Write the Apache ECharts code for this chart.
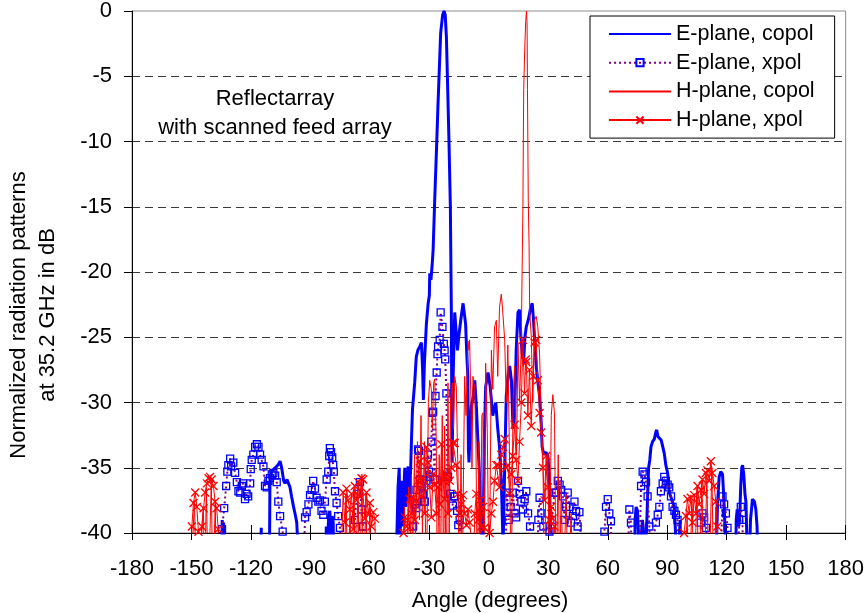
<!DOCTYPE html>
<html><head><meta charset="utf-8">
<script src="https://cdn.jsdelivr.net/npm/echarts@6/dist/echarts.min.js"></script>
<style>html,body{margin:0;padding:0;background:#fff}#c{width:867px;height:613px}</style>
</head><body><div id="c"></div>
<script>
const FONT = 'Liberation Sans, Arial, sans-serif';
const seriesNames = ['E-plane, copol', 'E-plane, xpol', 'H-plane, copol', 'H-plane, xpol'];
const xMin = -180, xMax = 180, xStep = 30;
const yMin = -40, yMax = 0, yStep = 5;

// [angle (deg), level (dB)]; values below -40 are clipped by the axis
const eCopol = [[-138,-50],[-135,-50],[-134.5,-39],[-134,-45],[-133.8,-39.2],[-133.3,-45],[-116,-50],[-114.8,-39.6],[-114.4,-50],[-111,-50],[-110.6,-40.5],[-110.4,-35.7],[-109.5,-35.3],[-108.5,-35.1],[-107,-34.9],[-106,-34.7],[-105.3,-34.5],[-104.5,-35],[-103.5,-36],[-102.8,-36.2],[-101.8,-35.9],[-101.2,-35.8],[-100.3,-36.5],[-99.5,-37.2],[-98.5,-38],[-97.5,-38.7],[-96.9,-39.2],[-96.3,-41],[-95,-50],[-82.5,-50],[-82,-39.5],[-81.5,-42],[-80.8,-38.6],[-80.2,-38.3],[-79.5,-41],[-79,-38.7],[-78.5,-39.2],[-78,-45],[-48,-50],[-46.5,-41],[-45.8,-36.5],[-45.2,-35],[-44.8,-40.5],[-44,-36],[-43.5,-39.5],[-42.4,-35],[-41.8,-38],[-40.7,-34.9],[-40,-37.5],[-39.4,-34.9],[-39,-32.8],[-38.5,-30.5],[-37.4,-28.5],[-36.6,-26.5],[-35.8,-26],[-34.8,-25.7],[-34,-25.4],[-33.4,-27.5],[-33,-29.8],[-32.5,-27],[-31.5,-24],[-30.6,-22.4],[-30,-21.8],[-29.8,-20.1],[-29.2,-20.6],[-28.6,-19.5],[-28.1,-18.3],[-27.3,-14.5],[-26.4,-10.6],[-25.6,-7],[-25.1,-5],[-24.3,-1.7],[-23.3,-0.3],[-22.6,0],[-22,-0.3],[-21.4,-2],[-20.9,-5],[-20.1,-10],[-19.4,-15],[-19.1,-20],[-18.9,-23.1],[-18.7,-30],[-18.5,-34.6],[-18,-28],[-17.2,-23.1],[-16.5,-24.5],[-15.8,-26],[-15.2,-25],[-14,-23.5],[-13,-22.4],[-12.2,-22.3],[-11.7,-24],[-11.2,-26],[-10.6,-28],[-10.3,-33.6],[-10,-34.6],[-9.4,-32],[-8.8,-30.3],[-7.8,-29.5],[-7.1,-28.3],[-6.3,-30.3],[-5.5,-33],[-4.6,-35.9],[-3.8,-40],[-3.2,-45],[-2.3,-33],[-1.6,-28.8],[-0.4,-27.7],[0.7,-28.8],[2,-31],[3.5,-30],[4.5,-32],[5.4,-33.4],[6.3,-36],[7.2,-41],[8,-35],[8.8,-29.5],[9.7,-28],[10.5,-27.2],[11.4,-28.3],[12.2,-32],[13,-31],[13.8,-26],[14.7,-23.1],[15.5,-22.9],[16.1,-24.8],[16.8,-26.2],[17.5,-27],[18.2,-25],[18.9,-24.2],[20,-23.6],[21,-22.8],[21.9,-22.4],[22.6,-23.8],[23.2,-25.5],[23.9,-27.2],[24.8,-28.5],[25.6,-29.5],[26.4,-31.5],[26.9,-33.4],[27.8,-34],[28.8,-33.8],[29.8,-34.1],[30.6,-36],[31.2,-40],[31.8,-50],[73,-50],[73.8,-39],[74.3,-38],[75,-38.3],[75.6,-40.5],[76.5,-41],[77.5,-39],[78.5,-40.5],[79.5,-40],[80,-37.7],[80.6,-35],[81.2,-34.4],[81.8,-33.4],[82.6,-33],[83.5,-32.8],[84.2,-32.3],[84.7,-32.1],[85.3,-32.6],[86,-32.5],[87,-32.9],[87.7,-32.8],[88.5,-33.9],[89.3,-34.8],[90.2,-35.4],[91,-36.9],[92,-37.3],[93.5,-38],[94.2,-40],[94.8,-45],[95.8,-45],[96.5,-39],[97.2,-45],[114,-50],[114.8,-41],[115.4,-37.7],[116.2,-35.7],[117,-35.3],[117.9,-35.5],[118.7,-37.8],[119.3,-40.5],[120,-50],[124,-50],[124.8,-39],[125.3,-38.2],[126,-39.5],[126.5,-39],[127.1,-36.3],[127.6,-35],[128,-34.8],[128.6,-35.5],[129.2,-37],[129.7,-37.6],[130.2,-40.5],[131,-45],[132,-39],[133,-37.4],[134,-37.6],[134.7,-38.2],[135.3,-39.5],[135.8,-42],[137,-50]];

const eXpol = [[-136,-45],[-134.6,-39.7],[-133.5,-38.1],[-132.5,-36.4],[-131.9,-35.3],[-131.4,-34.8],[-130.5,-34.3],[-130,-34.9],[-128.9,-34.6],[-128,-35.4],[-127.1,-36.1],[-126.3,-36.8],[-125.4,-36.9],[-124.6,-36.4],[-124,-36.2],[-123,-37.4],[-122.2,-37],[-121.4,-37.2],[-120.4,-36.2],[-120.1,-35.1],[-119.6,-34.4],[-118.8,-34],[-117.9,-33.4],[-117,-33.2],[-116.2,-33.4],[-115.4,-34],[-114.6,-34.4],[-113.7,-34.9],[-112.9,-36.4],[-112,-36.5],[-111.2,-36],[-110.4,-35.8],[-109.5,-35.5],[-108.7,-35.4],[-107.8,-35.6],[-107,-36.1],[-106.2,-37.6],[-105.3,-38.7],[-104,-39.9],[-103,-45],[-94,-45],[-92.7,-38.8],[-91.9,-38.4],[-91,-37.8],[-90.2,-37.1],[-89.4,-36.7],[-88.6,-36],[-87.7,-36.6],[-86.9,-37.3],[-86,-37.6],[-85.2,-37.5],[-84.4,-38.3],[-83.5,-38.6],[-82.7,-37.6],[-81.8,-35.9],[-81,-35.3],[-80.5,-34.1],[-80.2,-33.5],[-79.6,-33.8],[-79,-34.2],[-78.5,-34.8],[-78.2,-35.3],[-77.6,-36.8],[-76.8,-37.7],[-76,-38.7],[-75.1,-39.6],[-74,-45],[-69,-45],[-67.6,-39],[-66.5,-37],[-65,-36.1],[-64.2,-38.2],[-63.5,-39.5],[-62.5,-45],[-39,-42],[-38.2,-39.5],[-37.4,-37.8],[-36.6,-38.1],[-36.5,-36.7],[-35.7,-33.6],[-35.3,-33.7],[-34.8,-35.9],[-34,-36.4],[-33.2,-37],[-32.7,-37.6],[-32.3,-37.6],[-31.5,-36],[-30.7,-34],[-30.2,-35.3],[-29.8,-35.7],[-29,-33],[-28.5,-30.8],[-28.1,-30.7],[-27.3,-35.9],[-26.9,-29.5],[-26.3,-27.7],[-25.9,-26.3],[-25.6,-25.7],[-24.8,-25.2],[-24.3,-23.1],[-23.4,-24.2],[-22.7,-25.5],[-22.3,-26],[-22,-26.7],[-21.4,-29.3],[-20.9,-35.6],[-20.6,-35.7],[-19.5,-37],[-18.1,-37.9],[-17.6,-37.2],[-17.2,-37.2],[-16,-38.3],[-15.4,-39.4],[-14.7,-39],[-13.8,-45],[8,-45],[9.1,-36.9],[10,-39],[11,-38],[12.1,-36.9],[13,-38.5],[13.8,-38.8],[14.7,-36],[15.6,-37],[16.4,-37.6],[17.2,-38.2],[18.1,-37.4],[18.9,-36.8],[19.8,-38.5],[20.8,-39.5],[22,-45],[24,-45],[25,-39],[25.6,-37.3],[26.5,-38.5],[27.5,-39.5],[28.5,-45],[29.8,-41],[30.6,-39.9],[31.8,-39],[33.1,-36.9],[34,-36.9],[34.8,-36],[35.7,-36.3],[36.5,-36.7],[37.3,-37.2],[38.2,-39],[39,-38],[39.8,-36.9],[40.7,-38],[41.5,-39.2],[42.4,-38.7],[43.2,-37.6],[44,-38.3],[44.8,-39.5],[45.7,-38.4],[46.5,-40.5],[47.5,-45],[57,-45],[58.3,-39.9],[59.1,-38],[60,-37.4],[60.8,-38.5],[61.6,-39.1],[62.5,-45],[69.5,-45],[70.9,-38.2],[71.7,-39.2],[72.5,-45],[75.5,-45],[76.8,-36.4],[77.6,-35.3],[78.5,-35.5],[79.3,-36.1],[80.1,-37.2],[81,-39.5],[82,-45],[83,-40.5],[84.3,-39.2],[85.2,-38.6],[86,-38],[86.8,-36.8],[87.7,-36.2],[88.5,-35.7],[89.3,-36],[90.2,-36.3],[91,-36.5],[91.9,-37.2],[92.7,-38],[93.6,-38.3],[94.4,-38.6],[95.2,-39],[96,-42],[97,-45],[105.5,-45],[107,-39.2],[107.8,-38.5],[108.6,-38.8],[109.5,-39.6],[110.5,-45],[116.5,-45],[117.9,-37.2],[118.7,-37.8],[119.6,-38.5],[120.4,-39.6],[121.5,-45],[125.5,-45],[126.3,-39],[127.1,-38],[127.9,-39],[128.8,-45]];

const hCopol = [[-152,-50],[-148.5,-37.5],[-147.5,-45],[-144,-38],[-143.3,-45],[-142.5,-36.5],[-141.5,-45],[-140,-36],[-139.2,-45],[-138,-37.5],[-137,-50],[-74,-50],[-72,-37],[-71.2,-45],[-70,-38],[-69.2,-45],[-68,-36.5],[-67.2,-45],[-66,-36],[-65.2,-45],[-64,-35.5],[-63.2,-45],[-62,-37],[-61.2,-45],[-60,-38],[-59,-50],[-46,-50],[-44,-45],[-42.5,-38],[-42,-45],[-40.5,-36.5],[-40,-45],[-39,-35.5],[-38.5,-42],[-37.5,-34],[-37,-41],[-36,-33],[-35,-39],[-34.2,-31],[-33.5,-40],[-32.5,-33],[-31.5,-45],[-30.5,-30],[-29.8,-28.3],[-29,-29],[-28.5,-32],[-27.8,-28.5],[-27.3,-28.2],[-26.5,-33],[-26,-45],[-25,-34],[-24.5,-45],[-23.5,-31],[-22.8,-45],[-22.3,-31.8],[-21.5,-45],[-20.6,-28.5],[-20,-40],[-19.3,-30],[-18.4,-28.5],[-17.8,-32],[-17.2,-28],[-16.4,-28.8],[-15.5,-36],[-15,-45],[-14,-34],[-13.5,-45],[-12.2,-28],[-11.5,-31],[-10.5,-25.3],[-10,-26],[-9.7,-25.2],[-9,-30],[-8.5,-35],[-8,-28],[-7.1,-29],[-6.5,-33],[-5.8,-45],[-5,-33],[-4.5,-45],[-3.5,-31],[-3,-30.8],[-2.2,-40],[-1.6,-27],[-0.8,-32],[0.2,-45],[1.3,-26],[2,-29],[2.9,-24.2],[3.8,-23.7],[4.5,-28],[5.4,-22.7],[6.3,-21.7],[7.1,-23.2],[8,-25.2],[8.8,-30],[9.6,-25.6],[10.5,-35],[11.3,-45],[12.2,-30],[13,-27.2],[14,-34],[14.7,-25.4],[15.5,-30],[16.3,-26],[17.2,-15],[17.4,-10],[17.6,-6],[18.1,-3],[18.6,-0.8],[19,0],[19.3,-1],[19.5,-6],[19.9,-14.5],[20.3,-18],[20.6,-23],[21.4,-24.9],[22.2,-30],[23.1,-23.7],[23.9,-23.4],[24.7,-24.2],[25.6,-26.2],[26.4,-31],[27.3,-34.1],[28,-45],[28.8,-36],[29.8,-33.9],[30.5,-45],[31.5,-31],[32.3,-29.4],[33.1,-30.8],[34,-45],[35,-34],[35.8,-45],[36.5,-36],[37.5,-45],[39,-37],[40,-45],[41.5,-38.5],[42.5,-45],[44,-50],[98,-50],[100,-38.5],[101,-45],[102.5,-37.5],[103.5,-45],[105,-36.5],[106,-45],[107.5,-36],[108.5,-45],[110,-35.5],[111,-45],[112.5,-35],[113.5,-45],[114.5,-38],[115.5,-50]];

const hXpol = [[-151,-45],[-149.8,-39.5],[-149,-37.7],[-148.1,-36.9],[-147.3,-38],[-146.5,-39.9],[-145.5,-45],[-144.7,-39.5],[-143.9,-38.1],[-143.1,-36.9],[-142.2,-36.2],[-141.4,-35.8],[-140.6,-35.7],[-139.8,-35.9],[-138.9,-36.4],[-138.1,-37.6],[-137.3,-38.1],[-136.5,-39.7],[-135.5,-45],[-75,-45],[-73.5,-36.9],[-72.6,-39.2],[-71.8,-36.6],[-71,-37.5],[-70.1,-38.2],[-69.3,-37],[-68.4,-39.7],[-67.6,-36.4],[-66.8,-37.5],[-65.9,-36.1],[-65,-37.2],[-64.2,-35.8],[-63.4,-35.9],[-62.5,-38.9],[-61.7,-36.9],[-60.8,-38.5],[-60,-37.7],[-59.2,-39.5],[-58.3,-38.4],[-57.5,-38.9],[-56.5,-45],[-44,-45],[-43,-40],[-42.4,-38.8],[-41.5,-39.5],[-40.7,-39],[-39.9,-37.4],[-39,-38.5],[-38.2,-37.3],[-37.3,-39],[-36.5,-37.5],[-35.7,-36],[-34.8,-34.5],[-34,-37.2],[-33.2,-35.8],[-32.3,-38.5],[-31.5,-33.4],[-30.7,-34.6],[-29.8,-36.5],[-29,-38.8],[-28.1,-35.5],[-27.3,-36.3],[-26.4,-38.5],[-25.5,-36.5],[-24.7,-37.8],[-23.9,-33.2],[-23.1,-36],[-22.3,-37.4],[-21.4,-35.5],[-20.6,-38.5],[-19.7,-36],[-18.9,-35],[-18.1,-33.1],[-17.2,-33.1],[-16.4,-34.8],[-15.6,-37],[-14.7,-38.5],[-13.9,-37.8],[-13,-37.1],[-12.2,-38.5],[-11.3,-39.4],[-10.5,-38.2],[-9.7,-39.2],[-8.8,-40.5],[-8,-45],[-7.1,-38.5],[-6.3,-37],[-5.4,-39],[-4.6,-37.5],[-3.8,-39.5],[-2.9,-38],[-2.1,-39.6],[-1.2,-45],[0.4,-40],[1.3,-38.5],[2.1,-37.6],[2.9,-36],[3.8,-34.8],[4.6,-34.8],[5.4,-36.5],[6.3,-34],[7.1,-33.4],[8,-32.8],[8.8,-35],[9.6,-34.8],[10.5,-37],[11.3,-35.5],[12.1,-34.1],[13,-31.7],[13.8,-34.4],[14.7,-36],[15.5,-33],[16.4,-30],[17.2,-25.2],[18,-29.3],[18.6,-26.7],[18.9,-26.9],[19.7,-31],[20.5,-27.5],[21.4,-31.8],[22.3,-28],[23.1,-25.4],[23.9,-25.2],[24.7,-28.3],[25.6,-30.8],[26.4,-32.3],[27.3,-35],[28.1,-37.5],[28.9,-34.1],[29.8,-36.5],[30.6,-39],[31.5,-38],[32.3,-38.9],[33.1,-39.5],[34,-45],[97,-45],[98.5,-40],[99.4,-38.7],[100.2,-37.4],[101.1,-38.5],[101.9,-37.3],[102.8,-39.2],[103.6,-37.1],[104.5,-38.5],[105.3,-36.4],[106.1,-37.8],[107,-36.7],[107.8,-35.9],[108.6,-37],[109.5,-35.4],[110.3,-35.2],[111.2,-36],[112,-34.5],[112.8,-35.4],[113.7,-36.4],[114.5,-37.6],[115.3,-39.5],[116,-45]];

const chart = echarts.init(document.getElementById('c'), null, {renderer: 'canvas'});
const axisBase = {
  type: 'value', min: xMin, max: xMax, interval: xStep, gridIndex: 0, position: 'bottom'
};
chart.setOption({
  animation: false,
  backgroundColor: '#fff',
  textStyle: {fontFamily: FONT},
  grid: {left: 132, right: 20, top: 11, bottom: 80, show: true, borderColor: '#8c8c8c', borderWidth: 1},
  xAxis: [
    Object.assign({}, axisBase, {
      axisLine: {show: true, onZero: false, lineStyle: {color: '#000', width: 1}},
      axisTick: {show: true, inside: false, length: 7, lineStyle: {color: '#000', width: 1}},
      axisLabel: {show: true, color: '#000', fontSize: 22, fontFamily: FONT, margin: 25},
      splitLine: {show: false}
    }),
    Object.assign({}, axisBase, {
      axisLine: {show: false, onZero: false},
      axisTick: {show: true, inside: true, length: 8, lineStyle: {color: '#000', width: 1}},
      axisLabel: {show: false},
      splitLine: {show: false}
    })
  ],
  yAxis: {
    type: 'value', min: yMin, max: yMax, interval: yStep,
    axisLine: {show: true, onZero: false, lineStyle: {color: '#000', width: 1}},
    axisTick: {show: true, inside: false, length: 8, lineStyle: {color: '#000', width: 1}},
    axisLabel: {color: '#000', fontSize: 22, fontFamily: FONT, margin: 20},
    splitLine: {show: true, showMinLine: false, showMaxLine: false, lineStyle: {color: '#3a3a3a', width: 1, type: [8, 5]}}
  },
  legend: {
    orient: 'vertical', left: 590, top: 16,
    padding: [7, 20, 7, 18], itemGap: 6.7, itemWidth: 62, itemHeight: 9,
    borderColor: '#000', borderWidth: 1, backgroundColor: '#fff',
    textStyle: {fontSize: 21.5, fontFamily: FONT, color: '#000', lineHeight: 20},
    data: [
      {name: seriesNames[0], itemStyle: {opacity: 0}},
      {name: seriesNames[1]},
      {name: seriesNames[2], itemStyle: {opacity: 0}},
      {name: seriesNames[3]}
    ]
  },
  graphic: [
    {type: 'text', x: 275, y: 113, z: 10,
      style: {text: 'Reflectarray\nwith scanned feed array', fill: '#000', font: '22px ' + FONT,
        align: 'center', verticalAlign: 'middle', lineHeight: 29}},
    {type: 'text', x: 33, y: 315, rotation: Math.PI / 2, z: 10,
      style: {text: 'Normalized radiation patterns\nat 35.2 GHz in dB', fill: '#000', font: '22px ' + FONT,
        align: 'center', verticalAlign: 'middle', lineHeight: 29}},
    {type: 'text', x: 490, y: 601, z: 10,
      style: {text: 'Angle (degrees)', fill: '#000', font: '22px ' + FONT, align: 'center', verticalAlign: 'middle'}}
  ],
  series: [
    {name: seriesNames[0], type: 'line', data: eCopol, symbol: 'none', clip: true,
      lineStyle: {color: '#0000ff', width: 3}, itemStyle: {color: '#0000ff'}, z: 2},
    {name: seriesNames[1], type: 'line', data: eXpol, symbol: 'rect', symbolSize: 7, clip: true, showSymbol: true,
      lineStyle: {color: '#800080', width: 2, type: [2, 3]},
      itemStyle: {color: 'rgba(255,255,255,0)', borderColor: '#0000ff', borderWidth: 1.3}, z: 3},
    {name: seriesNames[2], type: 'line', data: hCopol, symbol: 'none', clip: true,
      lineStyle: {color: '#ff0000', width: 1}, itemStyle: {color: '#ff0000'}, z: 4},
    {name: seriesNames[3], type: 'line', data: hXpol, symbol: 'path://M0,0L10,10M10,0L0,10', symbolSize: 8, clip: true, showSymbol: true,
      lineStyle: {color: '#ff0000', width: 1},
      itemStyle: {color: 'rgba(255,0,0,0)', borderColor: '#ff0000', borderWidth: 1.3}, z: 5}
  ]
});
</script></body></html>
